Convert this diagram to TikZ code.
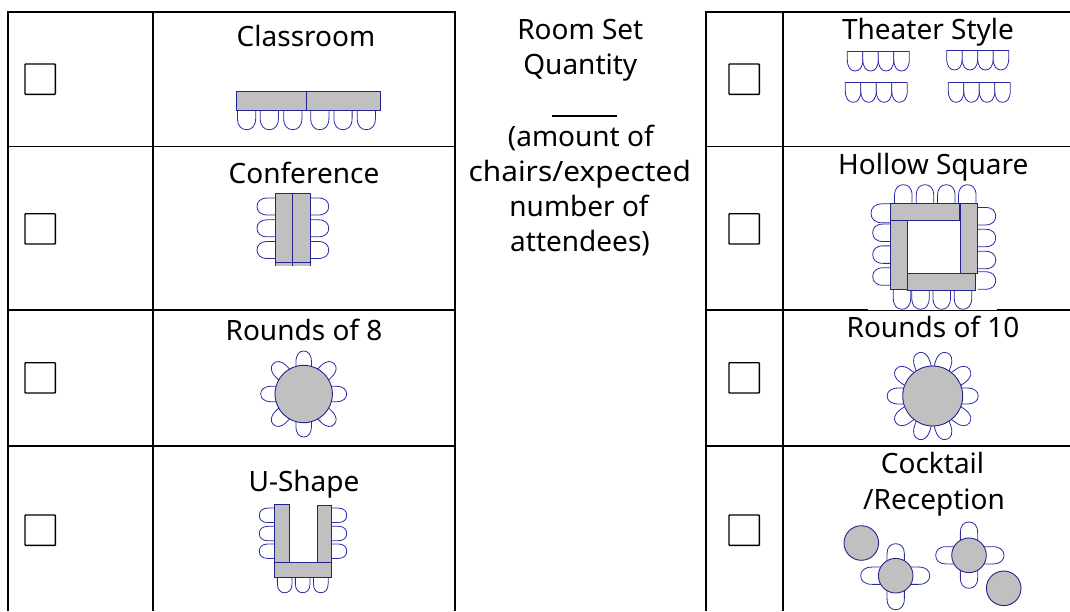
\documentclass[tikz,border=0pt]{standalone}
\usepackage{fontspec}
\setmainfont{Noto Sans}
\definecolor{chairblue}{HTML}{2A2AA8}
\definecolor{tablegray}{HTML}{C0C0C0}
\definecolor{tableedge}{HTML}{23238F}
\tikzset{
  gridline/.style={line width=1.7pt,black},
  tickbox/.style={line width=1.4pt,black,rounded corners=0.6pt},
  chairline/.style={line width=0.8pt,chairblue,fill=white},
  tablebox/.style={line width=0.9pt,tableedge,fill=tablegray},
  label/.style={anchor=base,inner sep=0pt,font=\fontsize{28}{28}\selectfont,text=black}
}
% base centre x, base centre y, rotation, width, length
\newcommand{\seat}[5]{%
  \begin{scope}[shift={({#1},{#2})},rotate={#3}]
    \draw[chairline] (-#4/2,0) -- (-#4/2,#5*0.42)
      .. controls (-#4/2,#5*0.82) and (-#4*0.28,#5) .. (0,#5)
      .. controls (#4*0.28,#5) and (#4/2,#5*0.82) .. (#4/2,#5*0.42) -- (#4/2,0);
  \end{scope}}
\newcommand{\tbl}[4]{\draw[tablebox] (#1,#2) rectangle (#3,#4);}
\newcommand{\tick}[2]{\draw[tickbox] (#1,#2) rectangle ++(30.3,30.3);}
\newcommand{\theaterrow}[3]{%
  \foreach \k in {0,1,2,3} {\seat{#1+7.75+15.5*\k}{#2}{0}{15.5}{20}}
  \draw[chairline,fill=none] (#1,#2) -- (#1+#3,#2);}
\begin{document}
\begin{tikzpicture}[x=1pt,y=-1pt]
\useasboundingbox (0,0) rectangle (1070,611);
% grid
\draw[gridline] (8,611) -- (8,12) -- (455,12) -- (455,611);
\draw[gridline] (153,12) -- (153,611);
\foreach \yy in {146.5,309.8,445.7} \draw[gridline] (8,\yy) -- (455,\yy);
\draw[gridline] (1070,12) -- (706,12) -- (706,611);
\draw[gridline] (783,12) -- (783,611);
\foreach \yy in {146.5,309.8,445.7} \draw[gridline] (706,\yy) -- (1070,\yy);
\fill[white] (868,307.5) rectangle (997,309.9);
% check boxes
\foreach \yy in {64,213.7,362.7,515} {\tick{25}{\yy}\tick{729}{\yy}}
% labels
\node[label] (classroom) at (306,46.7) {Classroom};
\node[label] (conference) at (304,183.3) {Conference};
\node[label] (rounds8) at (304,340.7) {Rounds of 8};
\node[label] (ushape) at (304,491) {U-Shape};
\node[label] (theater) at (928,39.3) {Theater Style};
\node[label] (hollow) at (933.3,174.3) {Hollow Square};
\node[label] (rounds10) at (933,337.3) {Rounds of 10};
\node[label] (cocktail) at (932.5,473.3) {Cocktail};
\node[label] (reception) at (934,509.3) {/Reception};
\node[label] (roomset) at (580.3,39.3) {Room Set};
\node[label] (quantity) at (580.3,74) {Quantity};
\draw[line width=1.7pt] (552,116) -- (617,116);
\node[label] (amount) at (580.8,146) {(amount of};
\node[label,xscale=1.065] (chairs) at (579.7,181) {chairs/expected};
\node[label] (number) at (579,216) {number of};
\node[label] (attendees) at (580,251) {attendees)};
% classroom
\foreach \cx in {246.6,269.3,292.8,319.8,343,366.3} {\seat{\cx}{110}{0}{18.2}{19.7}}
\tbl{236}{91.7}{306}{110}\tbl{306}{91.7}{380}{110}
% conference
\foreach \cy in {206.5,228.3,250} {\seat{275.3}{\cy}{270}{17}{18.3}\seat{310.7}{\cy}{90}{17}{18}}
\fill[tablegray] (275.3,193.7) rectangle (310.7,265.5);
\draw[tablebox,fill=none] (275.3,265.5) -- (275.3,193.7) -- (292.8,193.7) -- (292.8,265.5);
\draw[tablebox,fill=none] (292.8,193.7) -- (310.7,193.7) -- (310.7,265.5);
\draw[tablebox,fill=none] (275.3,262.5) -- (310.7,262.5);
% rounds of 8
\foreach \a in {0,45,...,315} {\seat{303.7+24*sin(\a)}{394+24*cos(\a)}{\a}{15.5}{19}}
\draw[tablebox] (303.7,394) circle (28.7);
% u-shape
\foreach \cy in {515.3,533.5,551.2} {\seat{274.3}{\cy}{270}{14.5}{15}\seat{331.7}{\cy}{90}{14.5}{15}}
\foreach \cx in {284.7,302.7,320.8} {\seat{\cx}{577.3}{0}{14.7}{15.4}}
\tbl{274.3}{504.3}{289}{562.5}\tbl{317.3}{505}{331.7}{562.5}\tbl{274}{562.7}{331.7}{577.3}
% theater
\theaterrow{847.3}{51}{62}\theaterrow{946.7}{50}{62}
\theaterrow{845.3}{82.3}{62}\theaterrow{948.3}{82.3}{61.4}
% hollow square
\foreach \cx in {903.3,925,946.3,967.3} {\seat{\cx}{203.3}{180}{17.5}{18.6}}
\seat{890.7}{213.3}{270}{19}{19.7}
\foreach \cy in {232.8,254.6,276.5} {\seat{890.7}{\cy}{270}{17.5}{18}}
\foreach \cy in {216.2,238,260,280.5} {\seat{977.7}{\cy}{90}{17.5}{18}}
\foreach \cx in {902,920.5,941.7,963} {\seat{\cx}{289.3}{0}{17.5}{20}}
\tbl{890.7}{220.3}{907.7}{289.3}\tbl{890}{203.3}{959.3}{220.3}
\tbl{960}{203.3}{977.7}{273.3}\tbl{907.7}{273.3}{975.7}{290}
% rounds of 10
\foreach \a in {0,36,...,324} {\seat{932.7+26*cos(\a)}{396+26*sin(\a)}{90-\a}{16}{19.5}}
\draw[tablebox] (932.7,396) circle (30);
% cocktail
\foreach \a/\l in {0/19,90/19,180/17,270/20} {\seat{895.7+15*sin(\a)}{575.7+15*cos(\a)}{\a}{17.3}{\l}}
\foreach \a/\l in {0/18,90/20,180/18.3,270/18.3} {\seat{969+15*sin(\a)}{555.3+15*cos(\a)}{\a}{17.3}{\l}}
\draw[tablebox] (861.3,543) circle (17.3);
\draw[tablebox] (895.7,575.7) circle (17.3);
\draw[tablebox] (969,555.3) circle (17.3);
\draw[tablebox] (1003.7,588.3) circle (17.3);
\end{tikzpicture}
\end{document}
